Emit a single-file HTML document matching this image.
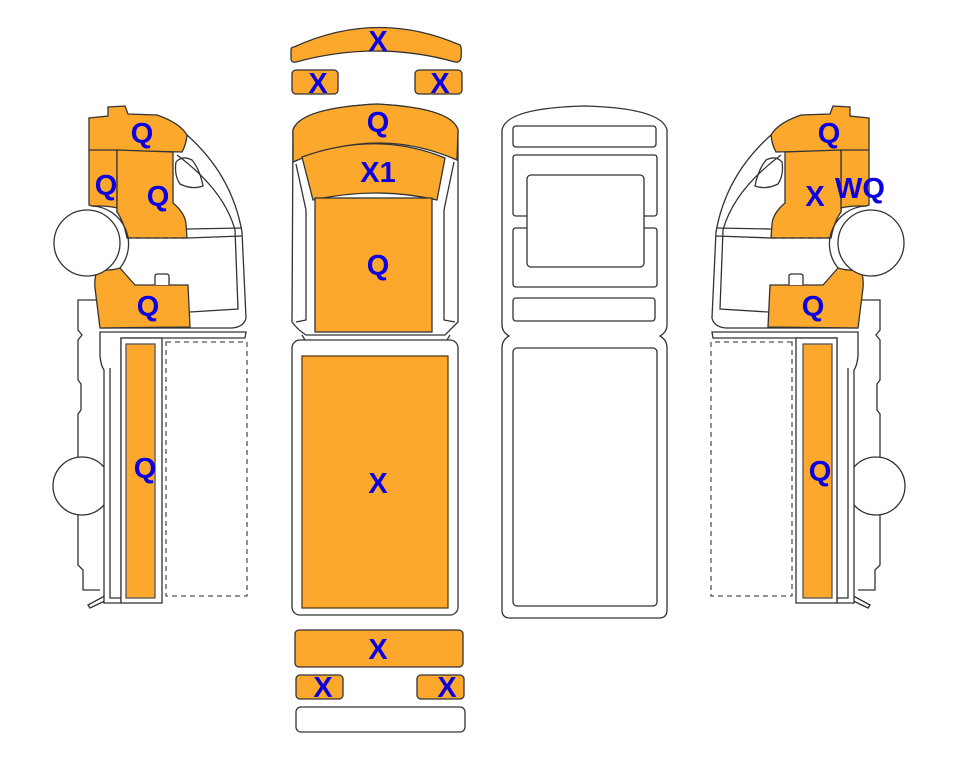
<!DOCTYPE html>
<html><head><meta charset="utf-8"><style>
html,body{margin:0;padding:0;background:#fff;}
svg{display:block;}
text{font-family:"Liberation Sans",Arial,sans-serif;font-weight:bold;fill:#0b00e0;font-size:29px;text-anchor:middle;}
</style></head><body>
<svg width="963" height="768" viewBox="0 0 963 768" xmlns="http://www.w3.org/2000/svg">
<defs>
<g id="side" stroke="#333" stroke-width="1.3" fill="none">
  <path d="M96,300 H78 V330 L82,335 L78,340 V380 L81,384 V410 L78,414 V458 M78,514 V565 L83,570 V590 H100" fill="#fff"/>
  <circle cx="82" cy="486" r="29" fill="#fff"/>
  <path d="M88,605 L112,592 L113,597 L90,608 Z" fill="#fff"/>
  <path d="M187,135 Q232,175 242,232 L246,318 Q244,327 232,328 L100,328" fill="#fff"/>
  <path d="M177,155 Q224,190 235,230 L238,309 L190,312"/>
  <path d="M176,162 Q182,155 192,160 Q200,170 203,186 Q192,190 180,184 Q174,175 176,162 Z"/>
  <path d="M187,229 L242,228 M187,238 L242,236"/>
  <path d="M89,118 L108,116 L108,107 L125,106 L128,114 L157,115 Q180,123 187,135 Q186,145 182,152 L89,150 Z" fill="#fca82c"/>
  <path d="M89,150 L117,150 L117,212 L125,219 L125,210 Q112,206 100,206 L92,206 L89,205 Z" fill="#fca82c"/>
  <path d="M117,150 L173,152 L173,203 Q185,213 186,224 L187,238 L127,238 Q124,222 117,212 Z" fill="#fca82c"/>
  <path d="M120,268 L135,285 L188,285 L190,327 L100,328 L95,288 Q94,276 98,270 Q110,271 120,268 Z" fill="#fca82c"/>
  <path d="M155,285 V276 Q155,274 158,274 H166 Q169,274 169,276 V285" fill="#fff"/>
  <path d="M127,238 H187" stroke-dasharray="5,4"/>
  <path d="M92,206 A38,38 0 0 1 120,268" stroke="#333" fill="none"/>
  <circle cx="87" cy="243" r="33" fill="#fff"/>
  <path d="M100,332 H246 L245,338 H121 V603 H104 V370 Q101,366 100,356 Z" fill="#fff"/>
  <path d="M110,368 V598 L121,598"/>
  <rect x="121" y="338" width="41" height="265" fill="#fff"/>
  <rect x="126" y="344" width="29" height="254" fill="#fca82c" stroke="#555"/>
  <rect x="166" y="342" width="81" height="254" stroke-dasharray="5,4" stroke="#555"/>
</g>
</defs>

<use href="#side"/>
<use href="#side" transform="translate(958,0) scale(-1,1)"/>

<g stroke="#333" stroke-width="1.3">
  <path d="M294,47 Q377,9 460,45 Q462,47 461,58 Q460,63 455,62 Q377,40 296,62 Q291,63 291,58 L291,50 Q291,47 294,47 Z" fill="#fca82c"/>
  <rect x="292" y="70" width="46" height="24" rx="4" fill="#fca82c"/>
  <rect x="415" y="70" width="47" height="24" rx="4" fill="#fca82c"/>
  <path d="M293,130 Q300,108 377,104 Q452,108 458,130 L458,322 Q450,330 445,335 L306,335 Q298,330 292,322 Z" fill="#fff"/>
  <path d="M293,130 Q300,108 377,104 Q452,108 458,130 L457,160 Q377,125 293,162 Z" fill="#fca82c"/>
  <path d="M302,157 Q377,130 445,158 L437,200 Q377,186 313,200 Z" fill="#fca82c"/>
  <rect x="315" y="198" width="117" height="134" fill="#fca82c"/>
  <path d="M296,164 L306,210 L306,320 L296,322 M454,162 L444,210 L444,320 L455,322" fill="none"/>
  <path d="M302,335 L305,340 M450,335 L447,340" fill="none"/>
  <rect x="292" y="340" width="166" height="275" rx="8" fill="#fff"/>
  <rect x="302" y="356" width="146" height="252" fill="#fca82c" stroke="#5a3d10"/>
  <rect x="295" y="630" width="168" height="37" rx="4" fill="#fca82c"/>
  <rect x="296" y="675" width="47" height="24" rx="4" fill="#fca82c"/>
  <rect x="417" y="675" width="47" height="24" rx="4" fill="#fca82c"/>
  <rect x="296" y="707" width="169" height="25" rx="5" fill="#fff"/>
  <path d="M502,130 Q506,108 584,106 Q662,108 667,130 L667,325 Q667,332 660,336 Q667,340 667,348 L667,610 Q667,618 659,618 L510,618 Q502,618 502,610 L502,348 Q502,340 509,336 Q502,332 502,325 Z" fill="#fff"/>
  <rect x="513" y="126" width="143" height="21" rx="3" fill="none"/>
  <path d="M527,216 H516 Q513,216 513,213 V158 Q513,155 516,155 H654 Q657,155 657,158 V213 Q657,216 654,216 H644" fill="none"/>
  <path d="M644,228 H654 Q657,228 657,231 V284 Q657,287 654,287 H516 Q513,287 513,284 V231 Q513,228 516,228 H527" fill="none"/>
  <rect x="527" y="175" width="117" height="92" rx="4" fill="none"/>
  <rect x="513" y="298" width="142" height="23" rx="3" fill="none"/>
  <rect x="513" y="348" width="144" height="258" rx="4" fill="none"/>
</g>

<text x="378" y="51">X</text>
<text x="318" y="93">X</text>
<text x="440" y="93">X</text>
<text x="378" y="132">Q</text>
<text x="378" y="182">X1</text>
<text x="378" y="275">Q</text>
<text x="378" y="493">X</text>
<text x="378" y="659">X</text>
<text x="323" y="697">X</text>
<text x="447" y="697">X</text>

<text x="142" y="143">Q</text>
<text x="106" y="195">Q</text>
<text x="158" y="206">Q</text>
<text x="148" y="316">Q</text>
<text x="145" y="478">Q</text>

<text x="829" y="143">Q</text>
<text x="815" y="206">X</text>
<text x="860" y="198">WQ</text>
<text x="813" y="316">Q</text>
<text x="820" y="481">Q</text>
</svg>
</body></html>
